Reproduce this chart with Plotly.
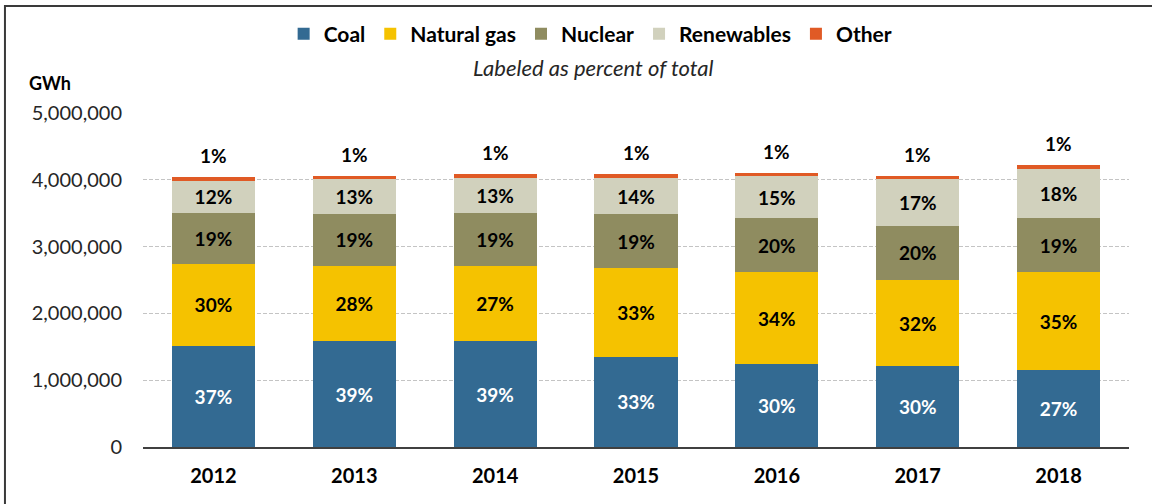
import plotly.graph_objects as go

years = ["2012", "2013", "2014", "2015", "2016", "2017", "2018"]
coal = [1514000, 1581000, 1582000, 1352000, 1239000, 1206000, 1146000]
natural_gas = [1226000, 1125000, 1127000, 1333000, 1378000, 1296000, 1468000]
nuclear = [769000, 789000, 797000, 797000, 806000, 805000, 807000]
renewables = [480000, 510000, 520000, 550000, 630000, 700000, 740000]
other = [55000, 55000, 55000, 55000, 55000, 55000, 55000]

coal_pct = ["37%", "39%", "39%", "33%", "30%", "30%", "27%"]
gas_pct = ["30%", "28%", "27%", "33%", "34%", "32%", "35%"]
nuclear_pct = ["19%", "19%", "19%", "19%", "20%", "20%", "19%"]
renew_pct = ["12%", "13%", "13%", "14%", "15%", "17%", "18%"]
other_pct = ["1%", "1%", "1%", "1%", "1%", "1%", "1%"]

y_ticks = [0, 1000000, 2000000, 3000000, 4000000, 5000000]

FONT = "Lato"
series = [
    ("Coal", coal, coal_pct, "#336a92", "white"),
    ("Natural gas", natural_gas, gas_pct, "#f5c200", "black"),
    ("Nuclear", nuclear, nuclear_pct, "#8f8c60", "black"),
    ("Renewables", renewables, renew_pct, "#d1d1bd", "black"),
    ("Other", other, None, "#e05a25", "black"),
]

fig = go.Figure()
for name, vals, labels, color, tcol in series:
    fig.add_trace(go.Bar(
        x=years, y=vals, name=name,
        marker=dict(color=color, line=dict(width=0)),
        text=labels if labels else None,
        textposition="inside" if labels else "none",
        insidetextanchor="middle",
        textangle=0,
        textfont=dict(family=FONT, size=19, color=tcol, weight="bold"),
        hoverinfo="skip",
    ))

totals = [a + b + c + d + e for a, b, c, d, e in zip(coal, natural_gas, nuclear, renewables, other)]
for i, (tot, lab) in enumerate(zip(totals, other_pct)):
    fig.add_annotation(x=i, y=tot, text=lab, showarrow=False, yanchor="bottom",
                       yshift=8, font=dict(family=FONT, size=19, color="black", weight="bold"))

# subtitle and axis title
fig.add_annotation(xref="paper", yref="paper", x=0.4564, y=1.1377, text="<i>Labeled as percent of total</i>",
                   showarrow=False, xanchor="center", yanchor="middle",
                   font=dict(family=FONT, size=22, color="#262626"))
fig.add_annotation(xref="paper", yref="paper", x=-0.1176, y=1.0898, text="<b>GWh</b>",
                   showarrow=False, xanchor="left", yanchor="middle",
                   font=dict(family=FONT, size=18, color="black"))

# outer border (left and top visible)
fig.add_shape(type="rect", xref="paper", yref="paper", x0=-0.14, x1=1.2, y0=-0.5, y1=1.3204,
              line=dict(color="#3a3a3a", width=2), layer="above")

fig.update_layout(
    width=1152, height=504,
    margin=dict(l=143, r=23, t=113, b=57, autoexpand=False),
    barmode="stack", bargap=0.41,
    paper_bgcolor="white", plot_bgcolor="white",
    font=dict(family=FONT, color="#262626"),
    showlegend=True,
    legend=dict(orientation="h", x=0.454, xanchor="center", y=1.2365, yanchor="middle",
                font=dict(family=FONT, size=21, color="black", weight="bold"),
                itemwidth=30, traceorder="normal", bgcolor="rgba(0,0,0,0)"),
    xaxis=dict(type="category", range=[-0.5, 6.5], showline=True, linecolor="#404040", linewidth=1.5,
               ticks="", tickfont=dict(family=FONT, size=20, color="black", weight="bold"),
               ticklabelstandoff=10, showgrid=False, fixedrange=True),
    yaxis=dict(range=[0, 5000000], tickvals=y_ticks, tickformat=",", showline=False,
               zeroline=False, showgrid=True, gridcolor="#c4c4c4", griddash="4px,2px", gridwidth=1,
               tickfont=dict(family=FONT, size=20, color="#262626"), ticklabelstandoff=20,
               fixedrange=True),
)

fig.write_html("out.html", config={"displayModeBar": False},
               post_script="document.body.style.margin='0';")
